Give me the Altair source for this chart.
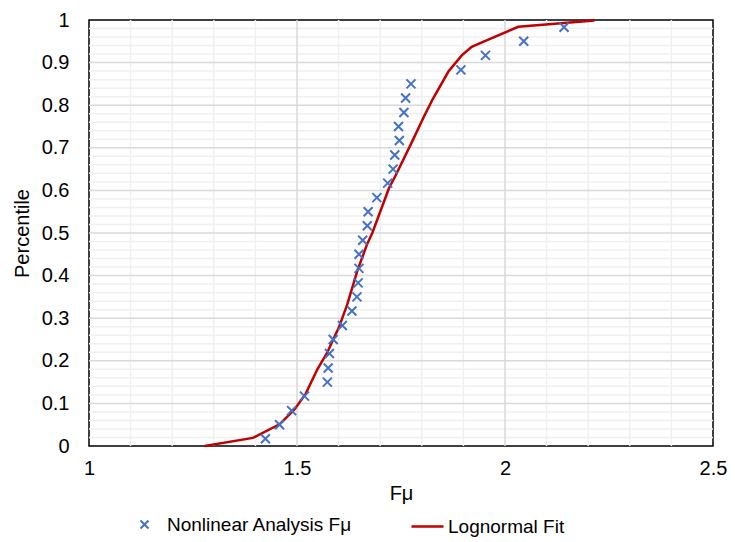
import altair as alt
import pandas as pd

FONT = "Liberation Sans"
BLUE = "#4472C4"
RED = "#C00000"
XPATH = "M-1,-1L1,1M-1,1L1,-1"

# Scatter: nonlinear analysis results (empirical percentiles)
scatter_x = [1.424, 1.458, 1.487, 1.518, 1.573, 1.575, 1.578, 1.587, 1.609, 1.632,
             1.644, 1.647, 1.649, 1.649, 1.658, 1.669, 1.671, 1.692, 1.718, 1.731,
             1.735, 1.746, 1.744, 1.757, 1.761, 1.774, 1.894, 1.953, 2.045, 2.142]
scatter_y = [0.017, 0.05, 0.083, 0.117, 0.15, 0.183, 0.217, 0.25, 0.283, 0.317,
             0.35, 0.383, 0.417, 0.45, 0.483, 0.517, 0.55, 0.583, 0.617, 0.65,
             0.683, 0.717, 0.75, 0.783, 0.817, 0.85, 0.883, 0.917, 0.95, 0.983]

# Lognormal fit curve
fit_x = [1.278, 1.394, 1.458, 1.494, 1.521, 1.549, 1.573, 1.601, 1.621, 1.645,
         1.669, 1.681, 1.721, 1.737, 1.777, 1.805, 1.825, 1.864, 1.896, 1.92,
         1.95, 2.032, 2.215]
fit_y = [0.0, 0.019, 0.051, 0.086, 0.123, 0.18, 0.22, 0.279, 0.333, 0.411,
         0.475, 0.50, 0.605, 0.635, 0.715, 0.773, 0.812, 0.879, 0.917, 0.937,
         0.95, 0.984, 0.999]

scatter_name = "Nonlinear Analysis F\u03bc"
fit_name = "Lognormal Fit"

x_ticks = [1, 1.5, 2, 2.5]
y_ticks = [0, 0.1, 0.2, 0.3, 0.4, 0.5, 0.6, 0.7, 0.8, 0.9, 1]

x_grid_major = [1.5, 2.0]
x_grid_minor = [1.1, 1.2, 1.3, 1.4, 1.6, 1.7, 1.8, 1.9, 2.1, 2.2, 2.3, 2.4]
y_grid_major = [0.1, 0.2, 0.3, 0.4, 0.5, 0.6, 0.7, 0.8, 0.9]
y_grid_minor = [0.02, 0.04, 0.06, 0.08, 0.12, 0.14, 0.16, 0.18, 0.22, 0.24, 0.26, 0.28,
                0.32, 0.34, 0.36, 0.38, 0.42, 0.44, 0.46, 0.48, 0.52, 0.54, 0.56, 0.58,
                0.62, 0.64, 0.66, 0.68, 0.72, 0.74, 0.76, 0.78, 0.82, 0.84, 0.86, 0.88,
                0.92, 0.94, 0.96, 0.98]

scatter_df = pd.DataFrame({"x": scatter_x, "y": scatter_y, "series": scatter_name})
fit_df = pd.DataFrame({"x": fit_x, "y": fit_y, "fit": fit_name})

x_scale = alt.Scale(domain=[1, 2.5], nice=False, zero=False)
y_scale = alt.Scale(domain=[0, 1], nice=False, zero=False)

x_axis = alt.Axis(values=x_ticks, format="~g", title="F\u03bc",
                  labelPadding=12, titlePadding=5, labelFlush=False)
y_axis = alt.Axis(values=y_ticks, format="~g", title="Percentile",
                  labelPadding=20, titlePadding=9, labelFlush=False)


def vrules(vals, color, width):
    return alt.Chart(pd.DataFrame({"gx": vals})).mark_rule(
        color=color, strokeWidth=width
    ).encode(x=alt.X("gx:Q", scale=x_scale, axis=x_axis))


def hrules(vals, color, width):
    return alt.Chart(pd.DataFrame({"gy": vals})).mark_rule(
        color=color, strokeWidth=width
    ).encode(y=alt.Y("gy:Q", scale=y_scale, axis=y_axis))


grid = [
    hrules(y_grid_minor, "#f0f0f0", 1.5),
    vrules(x_grid_minor, "#f0f0f0", 1.5),
    hrules(y_grid_major, "#d9d9d9", 1.5),
    vrules(x_grid_major, "#d9d9d9", 1.5),
]

line = alt.Chart(fit_df).mark_line(strokeWidth=2.5).encode(
    x=alt.X("x:Q", scale=x_scale, axis=x_axis),
    y=alt.Y("y:Q", scale=y_scale, axis=y_axis),
    color=alt.Color(
        "fit:N",
        scale=alt.Scale(domain=[fit_name], range=[RED]),
        legend=alt.Legend(
            title=None, orient="none", legendX=321, legendY=489,
            symbolType="stroke", symbolSize=1024, symbolStrokeWidth=2.5,
            labelOffset=3, labelLimit=0,
            labelFont=FONT, labelFontSize=19, labelColor="#000000",
        ),
    ),
)

pts = alt.Chart(scatter_df).mark_point(
    filled=False, strokeWidth=2, size=81, color=BLUE, opacity=1
).encode(
    x=alt.X("x:Q", scale=x_scale, axis=x_axis),
    y=alt.Y("y:Q", scale=y_scale, axis=y_axis),
    shape=alt.Shape(
        "series:N",
        scale=alt.Scale(domain=[scatter_name], range=[XPATH]),
        legend=alt.Legend(
            title=None, orient="none", legendX=46, legendY=495,
            symbolSize=64, symbolStrokeWidth=2, symbolStrokeColor=BLUE,
            labelOffset=13, labelLimit=0,
            labelFont=FONT, labelFontSize=19, labelColor="#000000",
        ),
    ),
)

chart = alt.layer(*grid, line, pts).properties(
    width=624, height=426,
    autosize=alt.AutoSizeParams(type="none"),
    padding={"left": 81, "top": 12, "right": 14, "bottom": 93},
).configure_view(
    stroke="#000000", strokeWidth=1.5
).configure_axis(
    grid=False, ticks=False, domain=False,
    labelFont=FONT, labelFontSize=20, labelColor="#000000",
    titleFont=FONT, titleFontSize=20, titleFontWeight="normal", titleColor="#000000",
)

chart.save("out.html", embed_options={"renderer": "svg", "actions": False})
